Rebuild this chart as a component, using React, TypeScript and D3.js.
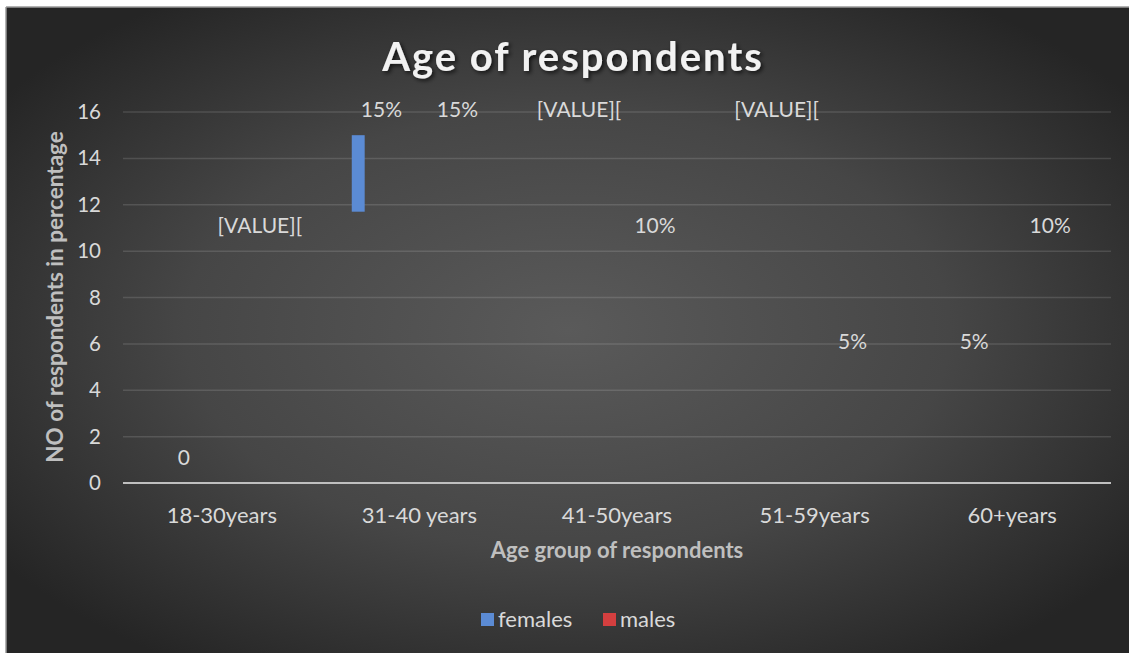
import React from "react";
import * as d3 from "d3";

const categories = ["18-30years", "31-40 years", "41-50years", "51-59years", "60+years"];
const seriesNames = ["females", "males"];
const seriesColors = ["#5b8bd4", "#d43f3f"];
const femalesValues = [0, 15, 15, 15, 5];
const malesValues = [10, 15, 10, 5, 10];
const femalesLabels = ["0", "15%", "[VALUE][", "[VALUE][", "5%"];
const malesLabels = ["[VALUE][", "15%", "10%", "5%", "10%"];
const yTicks = [0, 2, 4, 6, 8, 10, 12, 14, 16];
// the only visible bar fragment (females, 31-40 years)
const visibleCategory = "31-40 years";
const visibleFrom = 11.7;
const visibleTo = 15;
const visibleWidthFrom = 0.11;
const visibleWidthTo = 0.28;

const W = 1129;
const H = 653;
const FONT = "Lato, 'Open Sans', sans-serif";

export default function App() {
  const x = d3
    .scaleBand<string>()
    .domain(categories)
    .range([123, 1111])
    .paddingInner(0.2308)
    .paddingOuter(0.1154);
  const xs = d3.scaleBand<string>().domain(seriesNames).range([0, x.bandwidth()]);
  const y = d3.scaleLinear().domain([0, 16]).range([483, 112]);

  const series = [
    { name: "females", values: femalesValues, labels: femalesLabels },
    { name: "males", values: malesValues, labels: malesLabels },
  ];

  const vx = (x(visibleCategory) as number) + (xs("females") as number);
  const bw = xs.bandwidth();

  return (
    <svg width={W} height={H} style={{ position: "absolute", left: 0, top: 0 }}>
      <defs>
        <radialGradient id="bg" cx="0.5" cy="0.5" r="0.62" gradientUnits="objectBoundingBox">
          <stop offset="0" stopColor="#5a5a5a" />
          <stop offset="0.55" stopColor="#464646" />
          <stop offset="1" stopColor="#252525" />
        </radialGradient>
        <filter id="shadow" x="-10%" y="-30%" width="120%" height="160%">
          <feDropShadow dx="2" dy="2" stdDeviation="2" floodColor="#000" floodOpacity="0.7" />
        </filter>
      </defs>
      <rect x={0} y={0} width={W} height={H} fill="#ffffff" />
      <rect x={6} y={7} width={W - 6} height={H - 7} fill="url(#bg)" />
      <line x1={6} x2={W} y1={7} y2={7} stroke="#9a9a9a" strokeWidth={1.5} />
      <line x1={6} x2={6} y1={7} y2={H} stroke="#9a9a9a" strokeWidth={1.5} />

      <text
        x={573}
        y={71}
        textAnchor="middle"
        fontFamily={FONT}
        fontWeight={700}
        fontSize={40}
        fill="#f2f2f2"
        filter="url(#shadow)"
        letterSpacing={2}
      >
        Age of respondents
      </text>

      {yTicks.map((t) => (
        <g key={t}>
          {t !== 0 && (
            <line x1={123} x2={1111} y1={y(t)} y2={y(t)} stroke="rgba(255,255,255,0.13)" strokeWidth={1.5} />
          )}
          <text x={101} y={y(t) + 7} textAnchor="end" fontFamily={FONT} fontSize={20.5} fill="#d9d9d9">
            {t}
          </text>
        </g>
      ))}
      <line x1={123} x2={1111} y1={y(0)} y2={y(0)} stroke="#bfbfbf" strokeWidth={2} />

      {series.map((s) =>
        s.values.map((v, i) => (
          <rect
            key={s.name + i}
            x={(x(categories[i]) as number) + (xs(s.name) as number)}
            width={bw}
            y={y(v)}
            height={y(0) - y(v)}
            fill="none"
          />
        ))
      )}
      <rect
        x={vx + bw * visibleWidthFrom}
        width={bw * (visibleWidthTo - visibleWidthFrom)}
        y={y(visibleTo)}
        height={y(visibleFrom) - y(visibleTo)}
        fill={seriesColors[0]}
      />

      {series.map((s) =>
        s.values.map((v, i) => (
          <text
            key={"l" + s.name + i}
            x={(x(categories[i]) as number) + (xs(s.name) as number) + bw / 2}
            y={y(v) - 18}
            textAnchor="middle"
            fontFamily={FONT}
            fontSize={21}
            fill="#d9d9d9"
          >
            {s.labels[i]}
          </text>
        ))
      )}

      {categories.map((c) => (
        <text
          key={c}
          x={(x(c) as number) + x.bandwidth() / 2}
          y={523}
          textAnchor="middle"
          fontFamily={FONT}
          fontSize={22}
          fill="#d9d9d9"
        >
          {c}
        </text>
      ))}

      <text x={617} y={558} textAnchor="middle" fontFamily={FONT} fontWeight={700} fontSize={22} fill="#bfbfbf">
        Age group of respondents
      </text>
      <text
        transform={`translate(63,297) rotate(-90)`}
        textAnchor="middle"
        fontFamily={FONT}
        fontWeight={700}
        fontSize={22.5}
        fill="#bfbfbf"
      >
        NO of respondents in percentage
      </text>

      {seriesNames.map((n, i) => {
        const lx = i === 0 ? 481 : 603;
        return (
          <g key={n}>
            <rect x={lx} y={613} width={13} height={13} fill={seriesColors[i]} />
            <text x={lx + 17} y={627} fontFamily={FONT} fontSize={22} fill="#d9d9d9">
              {n}
            </text>
          </g>
        );
      })}
    </svg>
  );
}
